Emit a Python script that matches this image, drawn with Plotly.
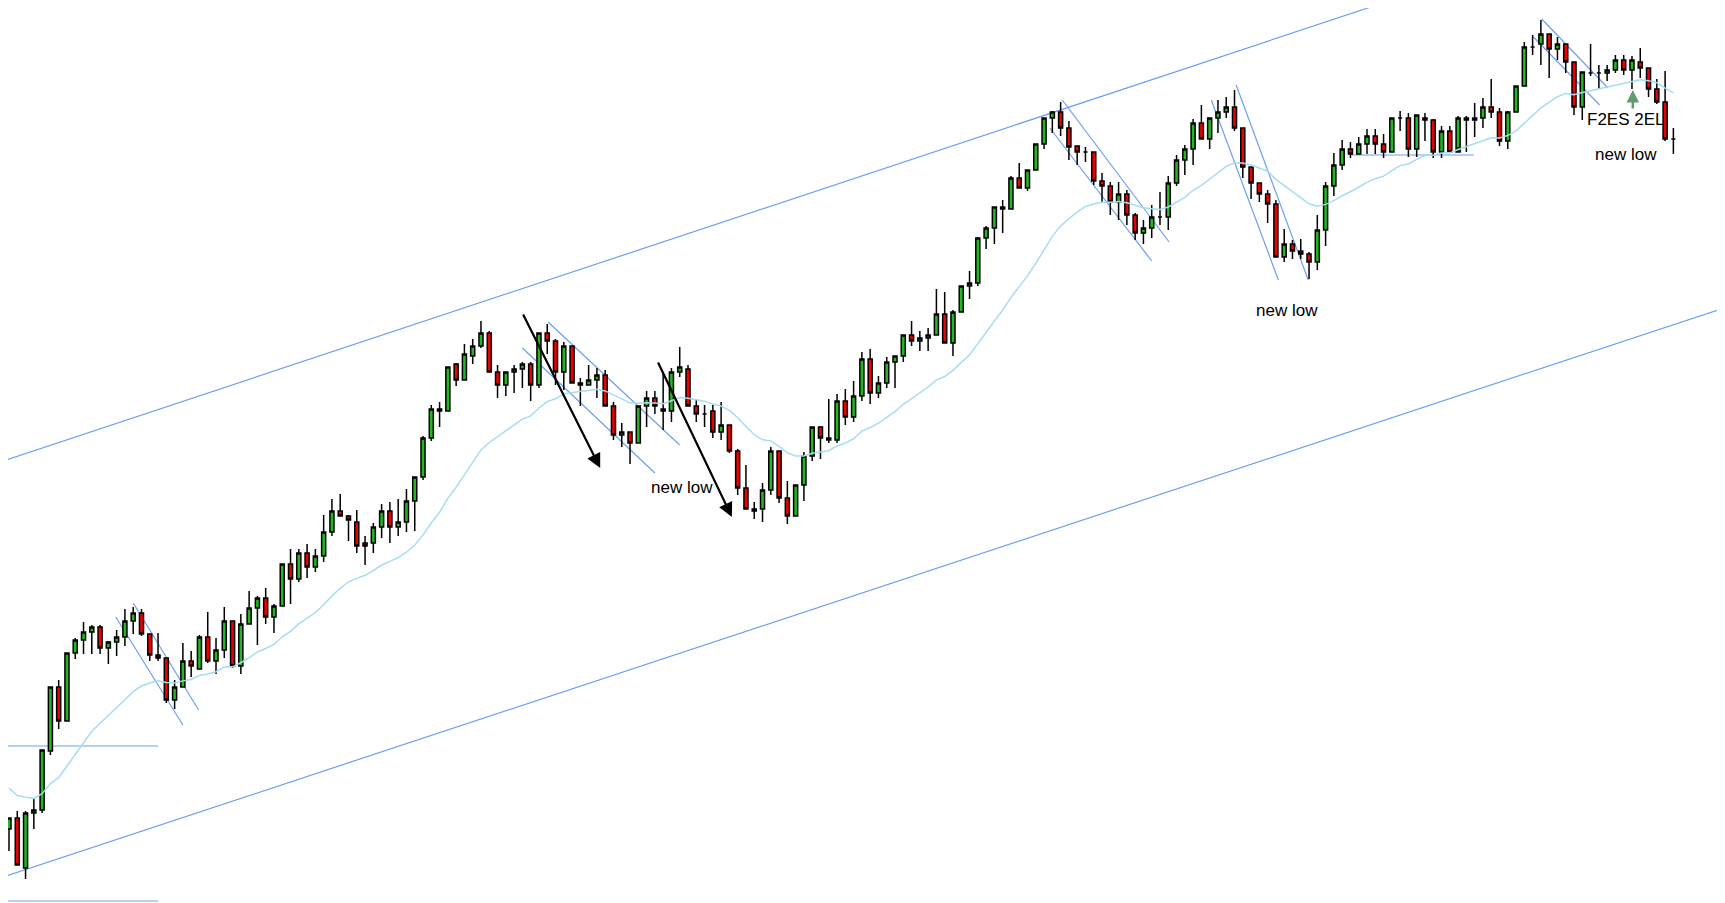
import plotly.graph_objects as go

opens = [71,82,32,87,90,149,213,179,247,260,268,273,252,258,263,279,287,266,245,242,200,213,239,231,263,239,250,279,234,276,
         292,302,283,294,336,321,347,333,344,368,389,384,378,357,357,373,389,373,378,399,
         423,462,491,489,536,520,544,554,567,528,515,528,531,536,515,567,559,528,554,517,
         515,520,525,494,465,468,457,494,502,491,489,528,531,494,486,489,468,475,449,412,
         391,391,410,449,402,384,415,444,473,462,460,499,483,504,541,507,517,538,544,565,
         559,562,565,586,557,588,614,617,662,672,693,691,722,712,730,756,782,788,772,754,
         748,748,719,714,698,706,685,667,672,683,683,717,740,751,777,761,782,788,793,772,
         733,717,706,696,643,656,649,646,638,670,714,735,751,746,756,764,756,748,782,782,
         751,782,780,748,769,748,782,780,782,793,788,759,788,814,853,856,866,851,856,838,
         793,827,827,827,830,840,830,838,832,811,798,761]
highs = [82,89,89,102,150,213,220,247,262,278,275,275,259,270,291,293,291,266,267,242,220,257,249,265,288,262,293,279,286,309,
         304,312,296,336,351,351,356,351,385,401,406,385,390,364,377,396,398,401,411,423,
         464,495,498,533,537,556,561,579,569,535,528,535,538,538,567,576,561,558,554,522,
         535,532,530,498,477,468,494,509,509,527,532,553,535,501,495,495,498,475,451,435,
         398,417,453,449,419,415,448,473,474,501,506,511,519,548,551,524,543,544,565,579,
         569,572,611,608,590,614,629,663,674,693,700,724,737,730,756,782,789,798,779,754,
         753,748,727,718,718,710,687,680,695,708,724,745,755,781,795,782,800,803,810,772,
         733,717,710,700,671,660,661,648,685,718,747,760,758,763,771,771,766,782,789,787,
         785,787,781,774,774,784,784,797,802,821,792,789,814,858,865,880,866,863,856,838,
         828,856,835,835,845,845,844,852,832,821,829,772]
lows = [49,35,21,71,87,145,171,179,241,246,246,246,236,244,254,266,264,239,239,197,191,213,223,231,237,226,242,232,226,276,
        255,276,267,294,296,318,322,328,338,364,384,359,347,335,347,362,357,364,368,369,
        420,459,473,489,514,520,536,552,528,502,504,507,512,499,512,546,515,510,517,494,
        515,502,494,460,453,436,457,473,486,470,478,523,494,478,473,462,460,447,405,391,
        381,378,405,397,376,384,399,439,441,457,457,475,478,499,496,502,512,512,538,554,
        549,549,565,557,544,588,601,614,651,656,667,691,712,709,730,751,767,764,740,735,
        738,715,698,685,680,675,660,656,662,675,670,714,725,735,761,751,767,782,769,722,
        701,698,677,643,638,641,641,621,630,654,704,730,742,746,746,746,742,748,769,743,
        743,759,742,742,747,753,748,763,772,782,754,751,788,814,845,835,822,840,827,785,
        780,824,811,819,827,825,811,822,803,796,759,746]
closes = [82,35,87,90,150,213,179,247,260,268,273,252,258,263,279,287,266,245,242,200,213,239,234,263,239,250,279,234,276,292,
          302,283,294,336,321,347,333,344,368,389,384,380,354,354,373,389,373,378,399,423,
          462,491,489,533,520,546,554,567,528,515,528,531,536,515,567,559,528,554,517,515,
          520,525,494,465,468,457,494,502,494,489,528,533,494,486,486,468,475,449,412,391,
          389,410,449,402,384,415,444,473,462,460,499,483,504,541,507,517,538,544,565,559,
          562,565,586,557,588,614,617,662,672,693,691,722,712,730,756,782,788,772,753,748,
          748,719,714,698,706,685,667,672,683,683,717,740,751,777,761,782,788,793,772,733,
          717,706,696,643,656,649,646,638,670,714,735,751,746,756,764,756,748,782,782,751,
          785,780,748,769,748,782,780,782,793,788,759,788,814,853,853,866,851,856,838,793,
          828,827,827,830,840,830,840,832,811,798,761,761]

n = min(len(opens), len(highs), len(lows), len(closes))
idx = list(range(n))

# 20-period EMA of closes
ema = []
e = 115.0
k = 2 / 21
for c in closes[:n]:
    e = e + k * (c - e)
    ema.append(e)

fig = go.Figure()
fig.add_trace(go.Scatter(x=idx, y=ema, mode="lines",
                         line=dict(color="#a6dcf2", width=1.5), hoverinfo="skip"))
fig.add_trace(go.Candlestick(
    x=idx, open=opens[:n], high=highs[:n], low=lows[:n], close=closes[:n],
    increasing=dict(line=dict(color="black", width=1.5), fillcolor="#22b822"),
    decreasing=dict(line=dict(color="black", width=1.5), fillcolor="#ee0000"),
    whiskerwidth=0, showlegend=False))

blue = "#6f9ff0"
lines = [
    ((-1.09, 438), (167.0, 900)),
    ((-1.09, 22), (208.2, 595)),
    ((-1.09, 154), (18.0, 154)),
    ((-1.09, -1), (18.0, -1)),
    ((162.0, 745), (176.9, 745)),
    ((15.0, 297), (22.9, 190)),
    ((12.9, 283), (21.0, 175)),
    ((65.1, 578), (81.0, 455)),
    ((62.0, 552), (78.0, 427)),
    ((127.2, 800), (140.1, 658)),
    ((125.7, 772), (138.0, 639)),
    ((145.2, 800), (153.3, 620)),
    ((148.2, 815), (156.9, 620)),
    ((185.1, 881), (193.1, 812)),
    ((184.1, 863), (192.1, 795)),
]
for (x0, y0), (x1, y1) in lines:
    fig.add_shape(type="line", x0=x0, y0=y0, x1=x1, y1=y1,
                  line=dict(color=blue, width=1.2), layer="below")

for (x0, y0), (x1, y1) in [((62.0, 587), (71.4, 432)), ((78.3, 539), (87.3, 383))]:
    fig.add_annotation(x=x1, y=y1, ax=x0, ay=y0, xref="x", yref="y", axref="x", ayref="y",
                       showarrow=True, arrowhead=2, arrowsize=1.3, arrowwidth=2.2,
                       arrowcolor="black", text="")
fig.add_annotation(x=196.1, y=810, ax=196.1, ay=790, xref="x", yref="y", axref="x", ayref="y",
                   showarrow=True, arrowhead=2, arrowsize=1.0, arrowwidth=2.5,
                   arrowcolor="#5f9c74", text="")

font = dict(family="Liberation Sans, Arial", size=17, color="black")
for tx, x, y in [("new low", 81.3, 413), ("new low", 154.3, 590),
                 ("new low", 195.3, 746), ("F2ES 2EL", 195.3, 781)]:
    fig.add_annotation(x=x, y=y, text=tx, showarrow=False, font=font)

fig.update_layout(width=1725, height=903, margin=dict(l=0, r=0, t=0, b=0),
                  paper_bgcolor="white", plot_bgcolor="white", showlegend=False,
                  xaxis=dict(range=[-0.12, 208.2], visible=False, rangeslider=dict(visible=False)),
                  yaxis=dict(range=[-11, 892], visible=False))
fig.write_html("out.html")
